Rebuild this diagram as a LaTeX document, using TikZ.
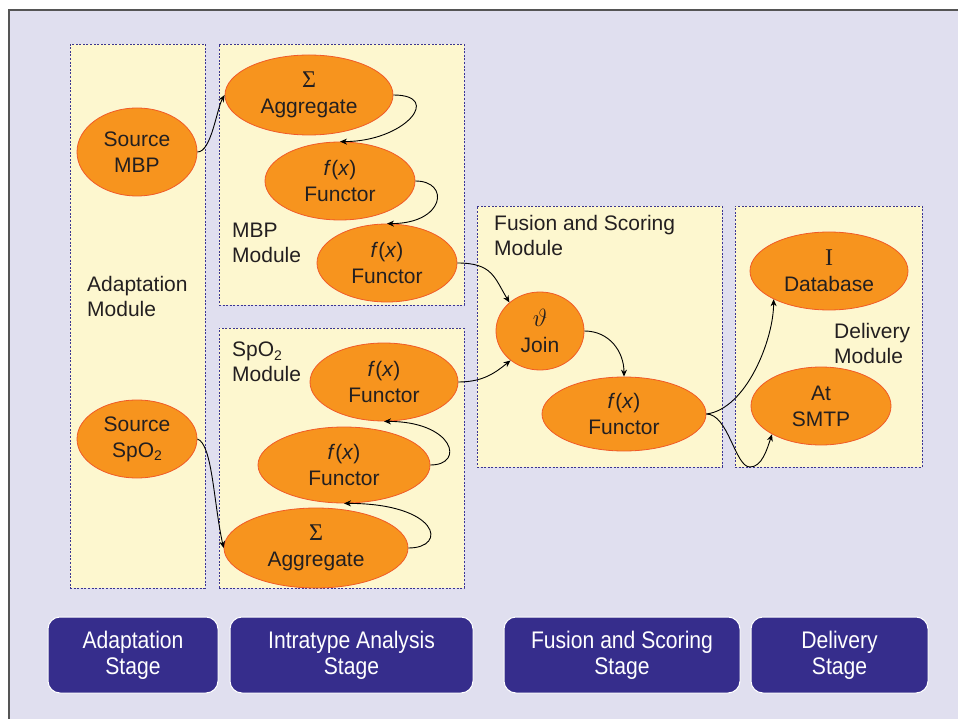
\documentclass[tikz,border=0pt]{standalone}
\usepackage{fontspec}
\setmainfont{Liberation Sans}
\newfontfamily\seriffont{Liberation Serif}
\newfontfamily\narrowfont[FakeStretch=0.88]{Liberation Sans}
\usetikzlibrary{shapes.geometric,arrows.meta,fit}
\definecolor{bg}{HTML}{E0DFEF}
\definecolor{modfill}{HTML}{FDF7CF}
\definecolor{modline}{HTML}{3B3592}
\definecolor{ellfill}{HTML}{F7941E}
\definecolor{elldraw}{HTML}{F05A28}
\definecolor{stagefill}{HTML}{362D8C}
\definecolor{txt}{HTML}{231F20}
\definecolor{framecol}{HTML}{555555}
\newcommand{\sub}[1]{\raisebox{-0.3ex}{\fontsize{14}{14}\selectfont #1}}
\newcommand{\symb}[1]{{\fontsize{24}{26}\selectfont\seriffont #1}}
\begin{document}
\begin{tikzpicture}[x=1pt,y=-1pt,
 modbox/.style={draw=modline, fill=modfill, line width=0.9pt, dash pattern=on 2pt off 1.6pt, inner sep=0pt},
 proc/.style={ellipse, draw=elldraw, line width=0.8pt, fill=ellfill, inner sep=0pt, align=center, font=\fontsize{21}{26}\selectfont, text=txt},
 lbl/.style={anchor=west, align=left, font=\fontsize{21}{25}\selectfont, text=txt, inner sep=0pt},
 stagebox/.style={draw=white, line width=1pt, fill=stagefill, rounded corners=12pt, text=white, align=center, font=\narrowfont\fontsize{24}{26}\selectfont, inner sep=0pt},
 link/.style={draw=black, line width=0.9pt, -{Stealth[length=7pt,width=6pt]}}
]
\useasboundingbox (0,0) rectangle (958,719);
\fill[white] (0,0) rectangle (958,719);
\fill[bg] (9,10) rectangle (960,721);
\draw[framecol, line width=2pt] (9,721) -- (9,10) -- (960,10);

% module boxes
\node[modbox, fit={(70,44) (205,588)}] (adm) {};
\node[modbox, fit={(219,44) (464,305)}] (mbpm) {};
\node[modbox, fit={(219,328) (464,588)}] (spom) {};
\node[modbox, fit={(477,206) (722,467)}] (fsm) {};
\node[modbox, fit={(735,206) (922,467)}] (dlm) {};

% module labels
\node[lbl] (ladm) at (87,296) {Adaptation\\Module};
\node[lbl] (lmbp) at (232,243) {MBP\\Module};
\node[lbl] (lspo) at (232,362) {SpO\sub{2}\\Module};
\node[lbl] (lfsm) at (494,235) {Fusion and Scoring\\Module};
\node[lbl] (ldlm) at (834,343) {Delivery\\Module};

% processes
\node[proc, minimum width=120, minimum height=88] (smbp) at (137,152) {Source\\MBP};
\node[proc, minimum width=120, minimum height=78] (sspo) at (137,439) {Source\\SpO\sub{2}};

\node[proc, minimum width=168, minimum height=80] (agg1) at (309,95) {\symb{Σ}\\Aggregate};
\node[proc, minimum width=150, minimum height=78] (fun1) at (340,181) {\textit{f}(\textit{x})\\Functor};
\node[proc, minimum width=140, minimum height=78] (fun2) at (387,263) {\textit{f}(\textit{x})\\Functor};

\node[proc, minimum width=148, minimum height=78] (funa) at (384,382) {\textit{f}(\textit{x})\\Functor};
\node[proc, minimum width=172, minimum height=76] (funb) at (344,465) {\textit{f}(\textit{x})\\Functor};
\node[proc, minimum width=184, minimum height=80] (agg2) at (316,548) {\symb{Σ}\\Aggregate};

\node[proc, minimum width=88, minimum height=78] (join) at (540,331) {{\fontsize{24}{26}\selectfont$\vartheta$}\\Join};
\node[proc, minimum width=164, minimum height=74] (fus) at (624,414) {\textit{f}(\textit{x})\\Functor};

\node[proc, minimum width=158, minimum height=78] (db) at (829,271) {\symb{I}\\Database};
\node[proc, minimum width=140, minimum height=78] (smtp) at (821,406) {At\\SMTP};

% connectors
\draw[link] (smbp.east) .. controls +(14,0) and +(-8,14) .. (agg1.west);
\draw[link] (agg1.east) .. controls +(50,0) and +(65,0) .. (fun1.north);
\draw[link] (fun1.east) .. controls +(35,0) and +(58,0) .. (fun2.north);
\draw[link] (fun2.east) .. controls +(35,0) and +(-15,-25) .. (join.137);

\draw[link] (sspo.east) .. controls +(15,5) and +(-10,-45) .. (agg2.west);
\draw[link] (agg2.east) .. controls +(40,0) and +(95,0) .. (funb.south);
\draw[link] (funb.east) .. controls +(35,0) and +(70,0) .. (funa.south);
\draw[link] (funa.east) .. controls +(25,0) and +(-15,12) .. (join.225);

\draw[link] (join.east) .. controls +(25,0) and +(0,-25) .. (fus.north);
\draw[link] (fus.east) .. controls +(40,-5) and +(0,40) .. (db.207);
\coordinate (dip) at (750,467);
\draw[link] (fus.east) .. controls +(22,0) and +(-15,0) .. (dip) .. controls +(12,0) and +(-5,15) .. (smtp.210);

% stage boxes
\node[stagebox, minimum width=170, minimum height=76] (st1) at (133,655) {Adaptation\\Stage};
\node[stagebox, minimum width=243, minimum height=76] (st2) at (351.5,655) {Intratype Analysis\\Stage};
\node[stagebox, minimum width=236, minimum height=76] (st3) at (622,655) {Fusion and Scoring\\Stage};
\node[stagebox, minimum width=177, minimum height=76] (st4) at (839.5,655) {Delivery\\Stage};
\end{tikzpicture}
\end{document}
